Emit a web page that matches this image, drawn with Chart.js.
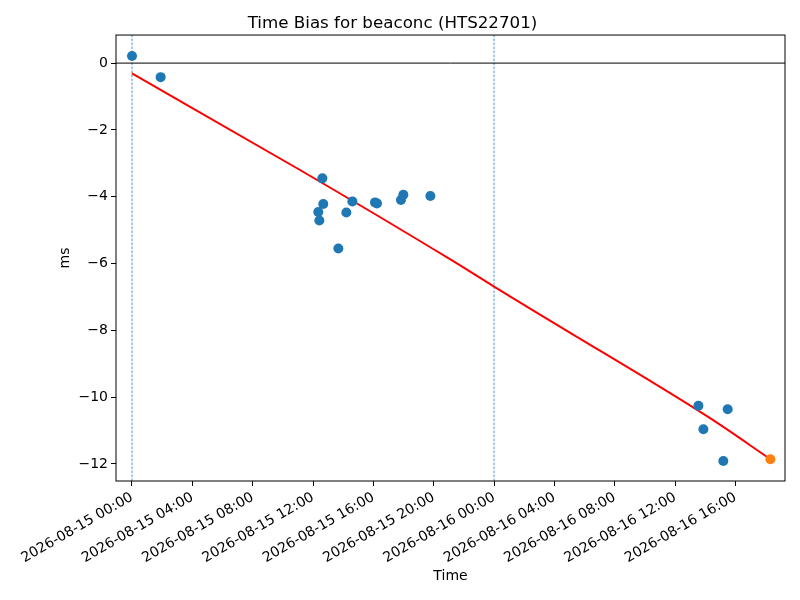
<!DOCTYPE html>
<html>
<head>
<meta charset="utf-8">
<script src="https://cdn.jsdelivr.net/npm/chart.js@4"></script>
<style>
  html, body { margin: 0; padding: 0; background: #fff; }
  #wrap { width: 800px; height: 600px; }
</style>
</head>
<body>
<div id="wrap"><canvas id="chart-bias" width="800" height="600"></canvas></div>
<script>
// hours since 2026-08-15 00:00
const sampleHours = [0.0, 1.9, 12.62, 12.68, 12.35, 12.42, 13.68, 14.21, 14.61, 16.11, 16.24, 17.83, 17.99, 19.78, 37.55, 37.88, 39.49, 39.2];
const sampleBias = [0.21, -0.42, -3.45, -4.22, -4.46, -4.71, -5.55, -4.47, -4.14, -4.17, -4.2, -4.1, -3.94, -3.98, -10.26, -10.96, -10.36, -11.91];
const latestHours = [42.32];
const latestBias = [-11.86];
// fit curve
const fitHours = [0.0, 11.14, 21.08, 24.0, 27.71, 38.32, 42.3];
const fitBias = [-0.31, -3.2, -5.87, -6.69, -7.71, -10.63, -11.85];
const dayMarks = [0, 24];
const xRange = [-1.06, 43.29];
const yRange = [-12.51, 0.84];

const FONT = "'DejaVu Sans', sans-serif";

function pts(xs, ys) {
  return xs.map((x, i) => ({ x: x, y: ys[i] }));
}

function fmtHour(h) {
  const day = 15 + Math.floor(h / 24);
  const hh = ((h % 24) + 24) % 24;
  return "2026-08-" + String(day).padStart(2, "0") + " " + String(hh).padStart(2, "0") + ":00";
}

const dayLines = dayMarks.map((d) => ({
  type: "line",
  data: pts([d, d], yRange),
  borderColor: "#1f77b4",
  borderWidth: 0.8,
  borderDash: [2.5, 1.5],
  pointRadius: 0,
  showLine: true,
}));

const frame = {
  id: "frame",
  afterDatasetsDraw(chart) {
    const a = chart.chartArea;
    const ctx = chart.ctx;
    ctx.save();
    ctx.strokeStyle = "#000";
    ctx.lineWidth = 1;
    ctx.strokeRect(a.left, a.top, a.right - a.left, a.bottom - a.top);
    ctx.restore();
  },
};

new Chart(document.getElementById("chart-bias").getContext("2d"), {
  type: "scatter",
  data: {
    datasets: [
      {
        data: pts(latestHours, latestBias),
        backgroundColor: "#ff7f0e",
        pointRadius: 5,
        borderWidth: 0,
      },
      {
        data: pts(sampleHours, sampleBias),
        backgroundColor: "#1f77b4",
        pointRadius: 5,
        borderWidth: 0,
      },
      {
        type: "line",
        data: pts(fitHours, fitBias),
        borderColor: "#ff0000",
        borderWidth: 2,
        pointRadius: 0,
        cubicInterpolationMode: "monotone",
        showLine: true,
      },
      {
        type: "line",
        data: pts(xRange, [0, 0]),
        borderColor: "#000",
        borderWidth: 1,
        pointRadius: 0,
        showLine: true,
      },
      ...dayLines,
    ],
  },
  options: {
    responsive: false,
    animation: false,
    layout: { padding: { left: 0, right: 15, top: 0, bottom: 0 } },
    plugins: {
      legend: { display: false },
      tooltip: { enabled: false },
      title: {
        display: true,
        text: "Time Bias for beaconc (HTS22701)",
        color: "#000",
        font: { family: FONT, size: 16.7, weight: "normal" },
        padding: { top: 14, bottom: 1 },
      },
    },
    scales: {
      x: {
        type: "linear",
        min: xRange[0],
        max: xRange[1],
        border: { display: false },
        grid: { drawOnChartArea: false, color: "#000", tickLength: 5 },
        ticks: {
          stepSize: 4,
          includeBounds: false,
          autoSkip: false,
          minRotation: 30,
          maxRotation: 30,
          color: "#000",
          font: { family: FONT, size: 14 },
          callback: (v) => fmtHour(v),
        },
        title: {
          display: true,
          text: "Time",
          color: "#000",
          font: { family: FONT, size: 14 },
          padding: { top: 4, bottom: 15 },
        },
        afterFit(scale) { scale.height = 119; },
      },
      y: {
        min: yRange[0],
        max: yRange[1],
        border: { display: false },
        grid: { drawOnChartArea: false, color: "#000", tickLength: 5 },
        ticks: {
          stepSize: 2,
          includeBounds: false,
          color: "#000",
          font: { family: FONT, size: 14 },
          callback: (v) => (v < 0 ? "\u2212" + Math.abs(v) : String(v)),
        },
        title: {
          display: true,
          text: "ms",
          color: "#000",
          font: { family: FONT, size: 14 },
          padding: { top: 57, bottom: 10 },
        },
        afterFit(scale) { scale.width = 116; },
      },
    },
  },
  plugins: [frame],
});
</script>
</body>
</html>
